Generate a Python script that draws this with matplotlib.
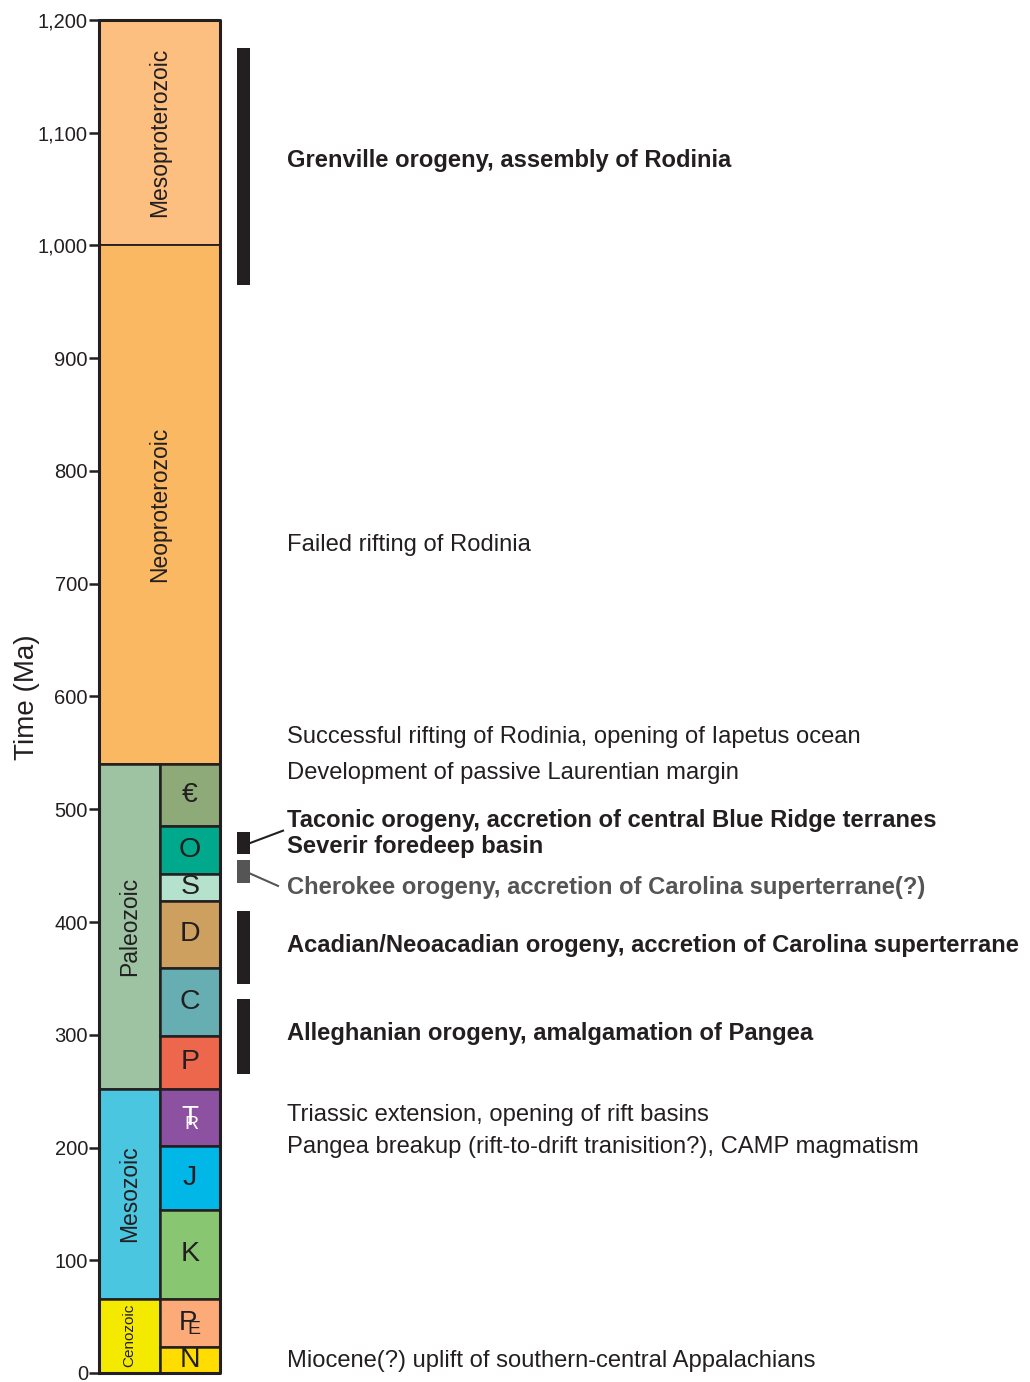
import matplotlib.pyplot as plt
import matplotlib as mpl

plt.rcParams['font.family'] = ['Liberation Sans', 'DejaVu Sans']

# eras / eons spanning both columns or era column only (Ma)
wide_names = ["Mesoproterozoic", "Neoproterozoic"]
wide_top = [1200, 1000]
wide_base = [1000, 540]
wide_colors = ["#FDBF80", "#FBB862"]

era_names = ["Paleozoic", "Mesozoic", "Cenozoic"]
era_top = [540, 252, 66]
era_base = [252, 66, 0]
era_colors = ["#9DC3A3", "#4BC6E0", "#F4EA00"]
era_sizes = [16.5, 16.5, 11]

period_labels = ["€", "O", "S", "D", "C", "P",
                 r"T$\!\!\!_\mathregular{R}$", "J", "K",
                 r"P$\!\!_\mathregular{E}$", "N"]
period_top = [540, 485, 443, 419, 359, 299, 252, 201, 145, 66, 23]
period_base = [485, 443, 419, 359, 299, 252, 201, 145, 66, 23, 0]
period_colors = ["#8DAA78", "#00A98C", "#B5E2CD", "#CDA05F", "#67AEB3",
                 "#EC674B", "#8C52A1", "#00B7E8", "#88C672", "#FBAA78", "#FFDD00"]
period_text_colors = ["#231F20"] * 6 + ["white"] + ["#231F20"] * 4

# tectonic events
bar_top = [1175, 480, 455, 410, 332]
bar_base = [965, 460, 435, 345, 265]
bar_colors = ["#231F20", "#231F20", "#555555", "#231F20", "#231F20"]

event_text = ["Grenville orogeny, assembly of Rodinia",
              "Failed rifting of Rodinia",
              "Successful rifting of Rodinia, opening of Iapetus ocean",
              "Development of passive Laurentian margin",
              "Taconic orogeny, accretion of central Blue Ridge terranes",
              "Severir foredeep basin",
              "Cherokee orogeny, accretion of Carolina superterrane(?)",
              "Acadian/Neoacadian orogeny, accretion of Carolina superterrane",
              "Alleghanian orogeny, amalgamation of Pangea",
              "Triassic extension, opening of rift basins",
              "Pangea breakup (rift-to-drift tranisition?), CAMP magmatism",
              "Miocene(?) uplift of southern-central Appalachians"]
event_age = [1075, 734, 564, 532, 490, 467, 431, 379, 301, 229, 200, 11]
event_bold = [True, False, False, False, True, True, True, True, True, False, False, False]
event_color = ["#231F20"] * 6 + ["#555555"] + ["#231F20"] * 5

ticks = [0, 100, 200, 300, 400, 500, 600, 700, 800, 900, 1000, 1100, 1200]

W, H = 1030, 1382
fig = plt.figure(figsize=(W / 100, H / 100), dpi=100)
ax = fig.add_axes([99 / W, (H - 1373) / H, (W - 99) / W, (1373 - 20) / H])
ax.set_xlim(99, W)
ax.set_ylim(0, 1200)

edge = "#231F20"
# wide units
for n, t, b, c in zip(wide_names, wide_top, wide_base, wide_colors):
    ax.bar(99, t - b, bottom=b, width=121, align="edge", color=c,
           edgecolor=edge, linewidth=1.3)
    ax.text(159.5, (t + b) / 2, n, rotation=90, ha="center", va="center",
            fontsize=16.5, color=edge)
# eras
for n, t, b, c, s in zip(era_names, era_top, era_base, era_colors, era_sizes):
    ax.bar(99, t - b, bottom=b, width=61, align="edge", color=c,
           edgecolor=edge, linewidth=1.8)
    ax.text(129.5, (t + b) / 2, n, rotation=90, ha="center", va="center",
            fontsize=s, color=edge)
# periods
for lab, t, b, c, tc in zip(period_labels, period_top, period_base,
                            period_colors, period_text_colors):
    ax.bar(160, t - b, bottom=b, width=60, align="edge", color=c,
           edgecolor=edge, linewidth=1.8)
    yc = (t + b) / 2
    if "$" in lab:
        ax.text(190, yc, lab, ha="center", va="center", fontsize=20, color=tc)
    else:
        ax.text(190, yc, lab, ha="center", va="center", fontsize=20.5, color=tc)

# outer frame of the column
ax.plot([99, 220, 220, 99, 99], [0, 0, 1200, 1200, 0], color=edge, lw=2.2,
        clip_on=False, zorder=5)

# event bars
for t, b, c in zip(bar_top, bar_base, bar_colors):
    ax.bar(237, t - b, bottom=b, width=13, align="edge", color=c, linewidth=0)

# leader lines
ax.plot([250, 283], [470, 481], color="#231F20", lw=1.5)
ax.plot([250, 278], [443, 432], color="#555555", lw=1.5)

for s, a, bo, c in zip(event_text, event_age, event_bold, event_color):
    ax.text(287, a, s, ha="left", va="center", fontsize=17.1,
            fontweight="bold" if bo else "normal", color=c)

for sp in ["top", "right", "bottom", "left"]:
    ax.spines[sp].set_visible(False)
ax.set_xticks([])
ax.set_yticks(ticks)
ax.set_yticklabels([f"{v:,}" for v in ticks], fontsize=14.5, color=edge)
ax.tick_params(axis="y", length=7, width=1.8, color=edge, pad=1)
fig.text(27 / W, 1 - 697 / H, "Time (Ma)", rotation=90, ha="center",
         va="center", fontsize=20, color=edge)
ax.patch.set_alpha(0)

fig.savefig("out.png", dpi=100)
